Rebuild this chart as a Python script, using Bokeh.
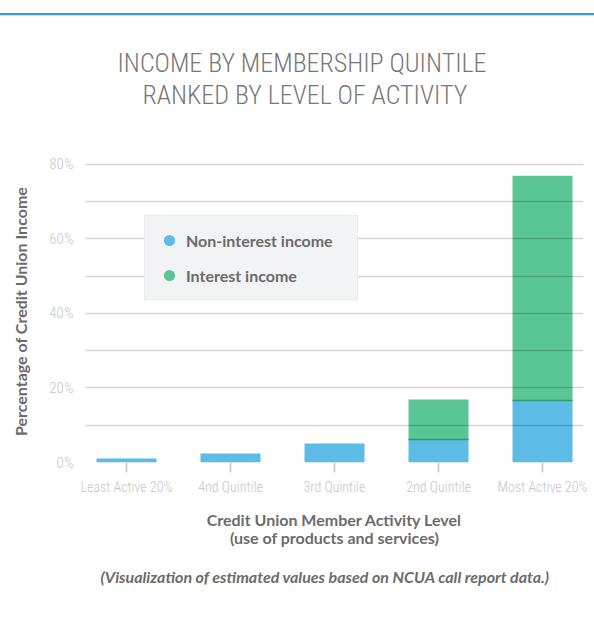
from bokeh.plotting import figure
from bokeh.models import (Range1d, FixedTicker, Legend, LegendItem, Title, ColumnDataSource)
from bokeh.embed import file_html
from bokeh.resources import INLINE

# ---- data ----
categories = ["Least Active 20%", "4nd Quintile", "3rd Quintile", "2nd Quintile", "Most Active 20%"]
non_interest = [1.1, 2.4, 5.1, 6.2, 16.6]
interest = [0.0, 0.0, 0.0, 10.7, 60.3]
y_ticks = [0, 20, 40, 60, 80]
y_tick_labels = ["0%", "20%", "40%", "60%", "80%"]
grid_ticks = [0, 10, 20, 30, 40, 50, 60, 70, 80]

BLUE = "#5dbce6"
GREEN = "#5ac695"
DARK_GREEN = "#2f9a6c"
NARROW = "Roboto Condensed Light, Roboto Condensed, DejaVu Sans Condensed, Liberation Sans Narrow, sans-serif"
BODY = "Lato"
BAR_W = 0.577

xs = list(range(len(categories)))
totals = [a + b for a, b in zip(non_interest, interest)]
src = ColumnDataSource(dict(x=xs, non=non_interest, tot=totals))

sx = [i for i, v in zip(xs, interest) if v > 0]
sy = [n for n, v in zip(non_interest, interest) if v > 0]
seg = ColumnDataSource(dict(x0=[i - BAR_W / 2 for i in sx], x1=[i + BAR_W / 2 for i in sx], y=sy))

p = figure(width=594, height=620, x_range=Range1d(-0.394, 4.394), y_range=Range1d(0, 81),
           output_backend="svg", toolbar_location=None, title=None,
           min_border_left=85, min_border_top=160, min_border_bottom=158, min_border_right=11)
p.outline_line_color = None
p.background_fill_color = "white"
p.border_fill_color = None
p.styles = {"background": "linear-gradient(to bottom, #ffffff 0px, #ffffff 13px, #3a9fd4 13px, "
                          "#3a9fd4 15px, #bfe3f5 15px, #bfe3f5 16px, #ffffff 16px, #ffffff 100%)"}

p.xgrid.grid_line_color = None
p.ygrid.ticker = FixedTicker(ticks=grid_ticks)
p.ygrid.grid_line_color = "black"
p.ygrid.grid_line_alpha = 0.17
p.ygrid.grid_line_width = 1.5
p.ygrid.level = "guide"

p.vbar(x="x", width=BAR_W, bottom=0, top="non", source=src, fill_color=BLUE, line_color=None)
p.vbar(x="x", width=BAR_W, bottom="non", top="tot", source=src, fill_color=GREEN, line_color=None)
p.segment(x0="x0", y0="y", x1="x1", y1="y", source=seg, line_color=DARK_GREEN, line_width=1.5)

# legend swatches (zero-size markers on the bars, only their legend glyphs show)
r1 = p.scatter(x="x", y="non", source=src, marker="circle", size=0, fill_color=BLUE, line_color=None)
r2 = p.scatter(x="x", y="tot", source=src, marker="circle", size=0, fill_color=GREEN, line_color=None)

legend = Legend(items=[LegendItem(label="Non-interest income", renderers=[r1]),
                       LegendItem(label="Interest income", renderers=[r2])],
                location=(59, 162), background_fill_color="#f2f3f5", background_fill_alpha=1,
                border_line_color="#e3e3e3", padding=10, spacing=7, margin=0,
                glyph_width=28, glyph_height=28, label_standoff=3, label_width=161,
                label_text_font=BODY, label_text_font_style="bold", label_text_font_size="16px",
                label_text_color="#6b6b6b")
p.add_layout(legend)

# x axis
p.xaxis.ticker = FixedTicker(ticks=xs)
p.xaxis.major_label_overrides = {i: c for i, c in zip(xs, categories)}
p.xaxis.axis_line_color = None
p.xaxis.major_tick_line_color = "#c4c4c4"
p.xaxis.major_tick_line_width = 1.5
p.xaxis.major_tick_in = 0
p.xaxis.major_tick_out = 10
p.xaxis.minor_tick_line_color = None
p.xaxis.major_label_text_font = NARROW
p.xaxis.major_label_text_font_size = "14px"
p.xaxis.major_label_text_color = "#c6c6c6"
p.xaxis.major_label_standoff = 6
p.xaxis.axis_label = "Credit Union Member Activity Level\n(use of products and services)"
p.xaxis.axis_label_text_font = BODY
p.xaxis.axis_label_text_font_style = "bold"
p.xaxis.axis_label_text_font_size = "16px"
p.xaxis.axis_label_text_color = "#6b6b6b"
p.xaxis.axis_label_standoff = 12
p.xaxis.axis_label_text_line_height = 0.95

# y axis
p.yaxis.ticker = FixedTicker(ticks=y_ticks)
p.yaxis.major_label_overrides = {t: l for t, l in zip(y_ticks, y_tick_labels)}
p.yaxis.axis_line_color = None
p.yaxis.major_tick_line_color = None
p.yaxis.minor_tick_line_color = None
p.yaxis.major_tick_out = 0
p.yaxis.major_tick_in = 0
p.yaxis.major_label_text_font = NARROW
p.yaxis.major_label_text_font_size = "15px"
p.yaxis.major_label_text_color = "#c6c6c6"
p.yaxis.major_label_standoff = 12
p.yaxis.axis_label = "Percentage of Credit Union Income"
p.yaxis.axis_label_text_font = BODY
p.yaxis.axis_label_text_font_style = "bold"
p.yaxis.axis_label_text_font_size = "16px"
p.yaxis.axis_label_text_color = "#6b6b6b"
p.yaxis.axis_label_standoff = 16

# title (two lines) above: spacer nearest the frame, then line 2, then line 1
p.add_layout(Title(text=" ", text_font_size="10px", standoff=38), "above")
p.add_layout(Title(text="RANKED BY LEVEL OF ACTIVITY", align="left", offset=57, text_font=NARROW,
                   text_font_size="26px", text_font_style="normal", text_color="#777777",
                   standoff=0), "above")
p.add_layout(Title(text="INCOME BY MEMBERSHIP QUINTILE", align="left", offset=32, text_font=NARROW,
                   text_font_size="26px", text_font_style="normal", text_color="#777777",
                   standoff=0), "above")
# footer below the x axis
p.add_layout(Title(text="(Visualization of estimated values based on NCUA call report data.)",
                   align="left", offset=15, text_font=BODY, text_font_style="bold italic",
                   text_font_size="16px", text_color="#6b6b6b", standoff=30), "below")

open("out.html", "w").write(file_html(p, INLINE))
